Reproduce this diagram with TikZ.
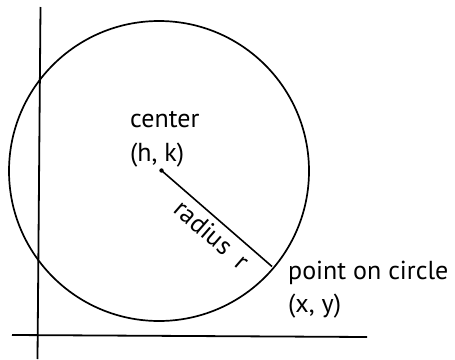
\documentclass[tikz,border=0pt]{standalone}
\usepackage{fontspec}
\setmainfont{PT Sans}
\begin{document}
\begin{tikzpicture}[x=1pt,y=-1pt,
  lbl/.style={anchor=base west,inner sep=0pt,font=\fontsize{26}{30}\selectfont},
  axisline/.style={line width=1.8pt},
  curve/.style={line width=1.7pt}]
\useasboundingbox (0,0) rectangle (455,359);
\coordinate (C) at (159,171);
\coordinate (O) at (161.5,170.5);
\coordinate (P) at (272,266.5);
\coordinate (ytop) at (40.5,7);
\coordinate (ybot) at (37.5,359);
\coordinate (xl) at (12,335);
\coordinate (xr) at (367,337);
\draw[axisline] (ytop) -- (ybot);
\draw[axisline] (xl) -- (xr);
\draw[curve] (C) circle[radius=150];
\fill (O) circle[radius=2.2];
\draw[line width=1.6pt] (O) -- node[pos=0.55,sloped,below=5pt,inner sep=0pt,font=\fontsize{26}{30}\selectfont] (rl) {radius\ \ r} (P);
\node[lbl] (c1) at (130,127.5) {center};
\node[lbl] (c2) at (130,161) {(h, k)};
\node[lbl] (p1) at (288,279.5) {point on circle};
\node[lbl] (p2) at (288,312) {(x, y)};
\end{tikzpicture}
\end{document}
